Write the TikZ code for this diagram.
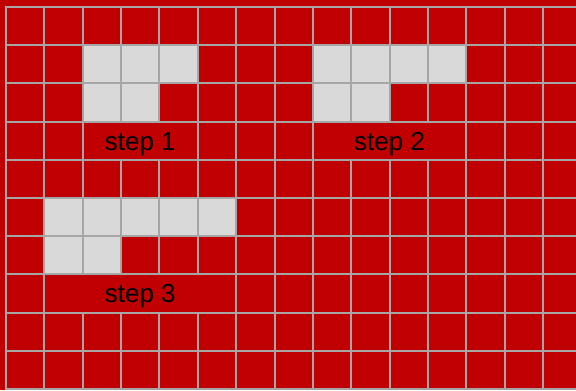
\documentclass[tikz,border=0pt]{standalone}
\usepackage{fontspec}
\setmainfont{Liberation Sans}
\definecolor{cellred}{HTML}{C00000}
\definecolor{cellgray}{HTML}{D9D9D9}
\definecolor{gridgray}{HTML}{A6A6A6}
\newcommand{\celltext}[1]{\raisebox{-7.1pt}[0pt][0pt]{#1}}
\begin{document}
\begin{tikzpicture}[x=0.75pt,y=-0.75pt,
  cell/.style={fill=cellred,draw=gridgray,line width=1.5pt},
  litcell/.style={fill=cellgray,draw=gridgray,line width=1.5pt},
  labelcell/.style={fill=cellred,draw=gridgray,line width=1.5pt,inner sep=0pt,outer sep=0pt,
    anchor=north west,minimum height=28.65pt,text=black,font=\fontsize{19.5pt}{23pt}\selectfont}]
\useasboundingbox (0,0) rectangle (576,390);
\fill[cellred] (0,0) rectangle (576,390);
\def\W{38.36}
\def\H{38.2}
\foreach \c in {0,...,14}
  \foreach \r in {0,...,9}
    \draw[cell] ({6+\c*\W},{7+\r*\H}) rectangle ++(\W,\H);
\foreach \c/\r in {2/1,3/1,4/1,2/2,3/2,
                   8/1,9/1,10/1,11/1,8/2,9/2,
                   1/5,2/5,3/5,4/5,5/5,1/6,2/6}
  \draw[litcell] ({6+\c*\W},{7+\r*\H}) rectangle ++(\W,\H);
\node[labelcell,minimum width=86.31pt] (s1) at ({6+2*\W},{7+3*\H}) {\celltext{step 1}};
\node[labelcell,minimum width=115.08pt] (s2) at ({6+8*\W},{7+3*\H}) {\celltext{step 2}};
\node[labelcell,minimum width=143.85pt] (s3) at ({6+1*\W},{7+7*\H}) {\celltext{step 3}};
\end{tikzpicture}
\end{document}
